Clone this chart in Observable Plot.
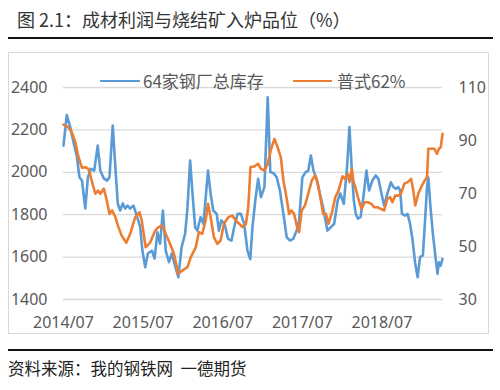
<!DOCTYPE html>
<html><head><meta charset="utf-8">
<script src="https://cdn.jsdelivr.net/npm/d3@7"></script>
<script src="https://cdn.jsdelivr.net/npm/@observablehq/plot@0.6"></script>
<style>
body{margin:0;background:#fff;}
#wrap{position:relative;width:500px;height:390px;overflow:hidden;font-family:"Noto Sans CJK SC","Noto Sans",sans-serif;}
.abs{position:absolute;}
</style></head><body>
<div id="wrap">
  <div class="abs" id="title" style="left:17px;top:9px;font-size:18px;line-height:20px;color:#333;white-space:nowrap;"></div>
  <div class="abs" style="left:8px;top:37px;width:485px;height:2px;background:#111;"></div>
  <div class="abs" style="left:8px;top:52px;width:479px;height:280px;border:1px solid #d9d9d9;"></div>
  <div class="abs" id="chart" style="left:0;top:45px;"></div>
  <div class="abs" id="legend" style="left:0;top:0;"></div>
  <div class="abs" style="left:8px;top:349px;width:485px;height:2px;background:#111;"></div>
  <div class="abs" id="caption" style="left:8px;top:358px;font-size:16.5px;line-height:20px;color:#222;white-space:pre;"></div>
</div>
<script>
const titleText = "图 2.1：成材利润与烧结矿入炉品位（%）";
const captionText = "资料来源：我的钢铁网  一德期货";
const seriesNames = ["64家钢厂总库存", "普式62%"];
const seriesColors = ["#5B9BD5", "#ED7D31"];
const xTickLabels = ["2014-07-01","2015-07-01","2016-07-01","2017-07-01","2018-07-01"];
const leftTicks = [1400,1600,1800,2000,2200,2400];
const rightTicks = [30,50,70,90,110];

const invDates = ["2014-07-01","2014-07-16","2014-08-01","2014-08-16","2014-09-01","2014-09-12","2014-09-24","2014-10-09","2014-10-21","2014-11-04","2014-11-19","2014-12-05","2014-12-17","2015-01-02","2015-01-17","2015-01-28","2015-02-12","2015-02-24","2015-03-07","2015-03-18","2015-03-30","2015-04-10","2015-04-21","2015-05-03","2015-05-18","2015-06-02","2015-06-18","2015-06-28","2015-07-11","2015-07-23","2015-08-11","2015-08-23","2015-09-05","2015-09-17","2015-09-30","2015-10-13","2015-10-28","2015-11-10","2015-11-20","2015-12-10","2015-12-25","2016-01-10","2016-01-21","2016-02-02","2016-02-13","2016-02-25","2016-03-06","2016-03-21","2016-04-03","2016-04-13","2016-04-24","2016-05-06","2016-05-18","2016-06-03","2016-06-13","2016-06-24","2016-07-09","2016-07-25","2016-08-10","2016-08-22","2016-09-07","2016-09-22","2016-10-07","2016-10-22","2016-11-04","2016-11-14","2016-11-27","2016-12-10","2016-12-23","2017-01-08","2017-01-23","2017-02-04","2017-02-19","2017-03-05","2017-03-20","2017-04-05","2017-04-20","2017-05-05","2017-05-20","2017-06-05","2017-06-16","2017-07-01","2017-07-16","2017-07-28","2017-08-09","2017-08-21","2017-09-01","2017-09-16","2017-10-04","2017-10-24","2017-11-09","2017-11-24","2017-12-10","2017-12-22","2018-01-07","2018-01-22","2018-02-02","2018-02-13","2018-02-22","2018-03-03","2018-03-13","2018-03-25","2018-04-07","2018-04-21","2018-05-03","2018-05-18","2018-06-03","2018-06-15","2018-06-26","2018-07-11","2018-07-26","2018-08-11","2018-08-23","2018-09-04","2018-09-14","2018-09-23","2018-10-01","2018-10-15","2018-10-27","2018-11-07","2018-11-19","2018-11-30","2018-12-12","2018-12-23","2019-01-05","2019-01-15","2019-01-24","2019-01-30","2019-02-09","2019-02-20","2019-03-02","2019-03-13","2019-03-20","2019-03-28","2019-04-05"];
const invValues = [2126,2270,2213,2142,2071,1977,1961,1829,1977,2016,2008,2126,2008,1971,1961,1977,2221,2024,1853,1820,1853,1829,1843,1829,1843,1796,1741,1631,1552,1617,1631,1593,1717,1663,1820,1631,1576,1616,1576,1505,1647,1710,1835,2056,1899,1741,1725,1788,1757,1875,2008,1899,1820,1804,1725,1773,1757,1686,1678,1741,1804,1804,1757,1631,1590,1741,1867,1969,1883,1930,2354,2001,1996,1977,1914,1804,1694,1678,1686,1725,1773,1977,2001,2008,2079,2008,1977,1914,1835,1725,1741,1757,1867,1900,1851,2024,2213,2008,1867,1804,1781,1788,1883,2008,1914,1961,1985,1969,1914,1843,1899,1953,1930,1922,1930,1914,1804,1796,1804,1757,1678,1576,1505,1600,1608,1773,1930,1975,1835,1710,1616,1521,1576,1560,1592];

const priceDates = ["2014-07-01","2014-07-23","2014-08-08","2014-08-24","2014-09-08","2014-09-24","2014-10-09","2014-10-24","2014-11-09","2014-11-24","2014-12-06","2014-12-17","2015-01-02","2015-01-14","2015-01-28","2015-02-09","2015-02-24","2015-03-10","2015-03-25","2015-04-15","2015-05-03","2015-05-26","2015-06-15","2015-06-25","2015-07-13","2015-08-03","2015-08-26","2015-09-10","2015-09-27","2015-10-13","2015-11-05","2015-11-20","2015-12-10","2015-12-28","2016-01-21","2016-02-05","2016-02-28","2016-03-13","2016-03-29","2016-04-13","2016-04-24","2016-05-06","2016-05-21","2016-06-06","2016-06-21","2016-07-06","2016-07-27","2016-08-14","2016-08-29","2016-09-14","2016-09-29","2016-10-15","2016-10-26","2016-11-05","2016-11-22","2016-12-10","2016-12-23","2017-01-08","2017-01-23","2017-02-08","2017-02-23","2017-03-09","2017-03-24","2017-04-05","2017-04-19","2017-05-01","2017-05-12","2017-05-24","2017-06-05","2017-06-16","2017-06-28","2017-07-13","2017-07-28","2017-08-13","2017-08-29","2017-09-09","2017-09-24","2017-10-04","2017-10-17","2017-10-29","2017-11-14","2017-11-29","2017-12-14","2018-01-01","2018-01-12","2018-01-25","2018-02-02","2018-02-13","2018-02-20","2018-03-13","2018-03-29","2018-04-13","2018-04-28","2018-05-14","2018-05-26","2018-06-11","2018-06-26","2018-07-11","2018-07-26","2018-08-08","2018-08-18","2018-08-31","2018-09-14","2018-09-26","2018-10-12","2018-10-27","2018-11-12","2018-11-22","2018-12-01","2018-12-15","2018-12-28","2019-01-09","2019-01-24","2019-01-30","2019-02-12","2019-02-27","2019-03-10","2019-03-20","2019-03-28","2019-04-05"];
const priceValues = [96.0,95.0,93.1,89.4,83.7,79.7,79.9,79.3,74.3,69.9,71.1,69.9,71.8,68.0,62.3,63.6,61.1,57.3,54.1,51.4,54.8,61.1,62.9,59.8,49.7,51.6,56.0,57.3,57.9,54.8,50.4,47.2,39.7,40.9,42.2,46.0,49.7,55.4,54.8,59.8,66.1,61.1,53.5,51.0,52.3,58.6,61.1,61.7,59.8,58.6,57.3,58.6,65.0,80.0,80.2,81.2,79.3,78.7,81.2,86.9,90.6,87.5,83.7,74.9,68.6,62.3,63.6,62.3,57.9,55.4,63.6,65.5,69.9,74.9,76.8,74.3,67.4,62.3,62.3,58.6,62.9,68.6,71.1,76.5,75.5,77.4,74.3,79.3,74.9,68.6,64.2,66.7,66.7,66.1,64.8,64.8,64.2,63.6,68.0,68.6,66.7,69.2,69.2,69.9,73.7,74.3,75.5,71.1,65.5,69.9,72.4,74.3,76.1,86.9,86.9,86.9,85.0,86.9,87.5,92.5];

// map secondary axis (30–110) onto primary axis (1400–2400)
const toLeft = d3.scaleLinear().domain([30,110]).range([1400,2400]);
const inv = invDates.map((d,i)=>({date:new Date(d), value:invValues[i]}));
const price = priceDates.map((d,i)=>({date:new Date(d), value:priceValues[i]}));

document.getElementById("title").textContent = titleText;
document.getElementById("caption").textContent = captionText;

const axisFont = "'Noto Sans', sans-serif";
const chart = Plot.plot({
  width: 500, height: 300,
  marginLeft: 63, marginRight: 58, marginTop: 42, marginBottom: 46,
  x: {type: "utc", domain: [new Date("2014-07-01"), new Date("2019-04-05")]},
  y: {domain: [1400, 2400]},
  style: {fontFamily: axisFont, fontSize: "16px", color: "#595959", background: "transparent", overflow: "visible"},
  marks: [
    Plot.ruleY(leftTicks, {stroke: "#d9d9d9", strokeWidth: 1.3}),
    Plot.axisY(leftTicks, {tickSize: 0, tickPadding: 16, label: null, fill: "#595959", tickFormat: d => String(d)}),
    Plot.axisY(rightTicks.map(v => toLeft(v)), {anchor: "right", tickSize: 0, tickPadding: 16, label: null, fill: "#595959", tickFormat: d => String(Math.round(toLeft.invert(d)))}),
    Plot.axisX(xTickLabels.map(d => new Date(d)), {tickSize: 0, tickPadding: 17, label: null, fill: "#595959", tickFormat: d3.utcFormat("%Y/%m")}),
    Plot.lineY(inv, {x: "date", y: "value", stroke: seriesColors[0], strokeWidth: 2.6, strokeLinejoin: "round"}),
    Plot.lineY(price, {x: "date", y: d => toLeft(d.value), stroke: seriesColors[1], strokeWidth: 2.6, strokeLinejoin: "round"})
  ]
});
document.getElementById("chart").appendChild(chart);

// legend
const legend = document.getElementById("legend");
const items = [{x: 100, w: 40, tx: 143}, {x: 293, w: 39, tx: 337}];
seriesNames.forEach((name, i) => {
  const line = document.createElement("div");
  line.className = "abs";
  line.style.cssText = `left:${items[i].x}px;top:79.5px;width:${items[i].w}px;height:2.6px;background:${seriesColors[i]};`;
  legend.appendChild(line);
  const t = document.createElement("div");
  t.className = "abs";
  t.style.cssText = `left:${items[i].tx}px;top:70px;font-size:17px;line-height:22px;color:#595959;white-space:nowrap;`;
  t.textContent = name;
  legend.appendChild(t);
});
</script>
</body></html>
